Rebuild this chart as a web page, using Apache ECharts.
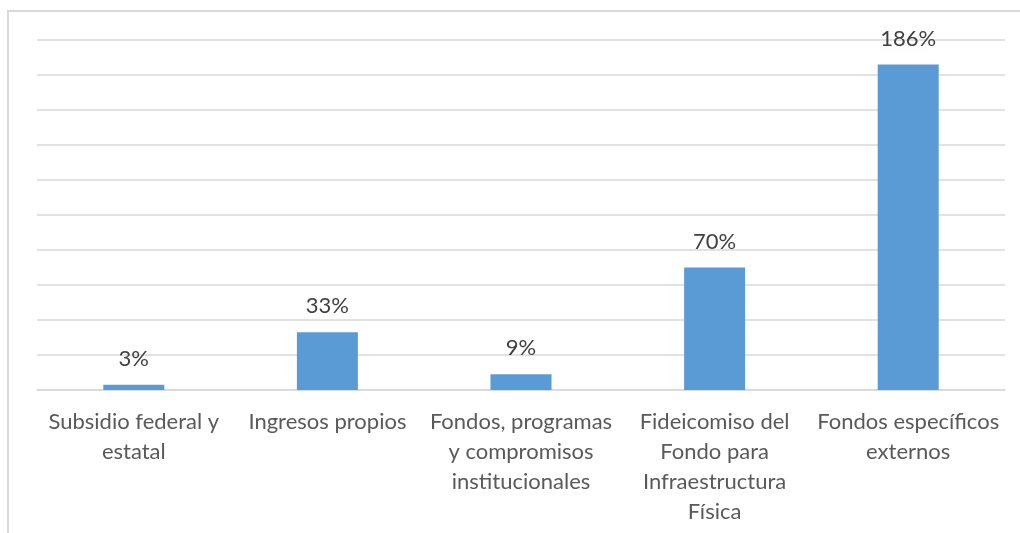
<!DOCTYPE html>
<html>
<head>
<meta charset="utf-8">
<script src="https://cdn.jsdelivr.net/npm/echarts@6/dist/echarts.min.js"></script>
<style>
html,body{margin:0;padding:0;background:#fff;}
#chart{width:1020px;height:533px;}
</style>
</head>
<body>
<div id="chart"></div>
<script>
const categories = [
  "Subsidio federal y\nestatal",
  "Ingresos propios",
  "Fondos, programas\ny compromisos\ninstitucionales",
  "Fideicomiso del\nFondo para\nInfraestructura\nFísica",
  "Fondos específicos\nexternos"
];
const values = [3, 33, 9, 70, 186];

const chart = echarts.init(document.getElementById('chart'), null, {renderer: 'canvas'});
chart.setOption({
  animation: false,
  backgroundColor: '#ffffff',
  graphic: [{
    type: 'polyline',
    shape: {points: [[8, 540], [8, 11], [1030, 11]]},
    style: {stroke: '#d9d9d9', lineWidth: 2, fill: null},
    silent: true
  }],
  grid: {left: 37, right: 15, top: 40, bottom: 143, containLabel: false},
  xAxis: {
    type: 'category',
    data: categories,
    axisLine: {show: true, lineStyle: {color: '#d9d9d9', width: 1.5}},
    axisTick: {show: false},
    axisLabel: {
      interval: 0,
      margin: 17,
      color: '#595959',
      fontFamily: 'Lato, "Open Sans", sans-serif',
      fontSize: 22,
      lineHeight: 30
    }
  },
  yAxis: {
    type: 'value',
    min: 0,
    max: 200,
    interval: 20,
    axisLabel: {show: false},
    axisLine: {show: false},
    axisTick: {show: false},
    splitLine: {lineStyle: {color: '#d9d9d9', width: 1.5}}
  },
  series: [{
    type: 'bar',
    data: values,
    barWidth: 61,
    itemStyle: {color: '#5b9bd5'},
    label: {
      show: true,
      position: 'top',
      distance: 15,
      formatter: '{c}%',
      color: '#404040',
      fontFamily: 'Lato, "Open Sans", sans-serif',
      fontSize: 22
    }
  }]
});
</script>
</body>
</html>
